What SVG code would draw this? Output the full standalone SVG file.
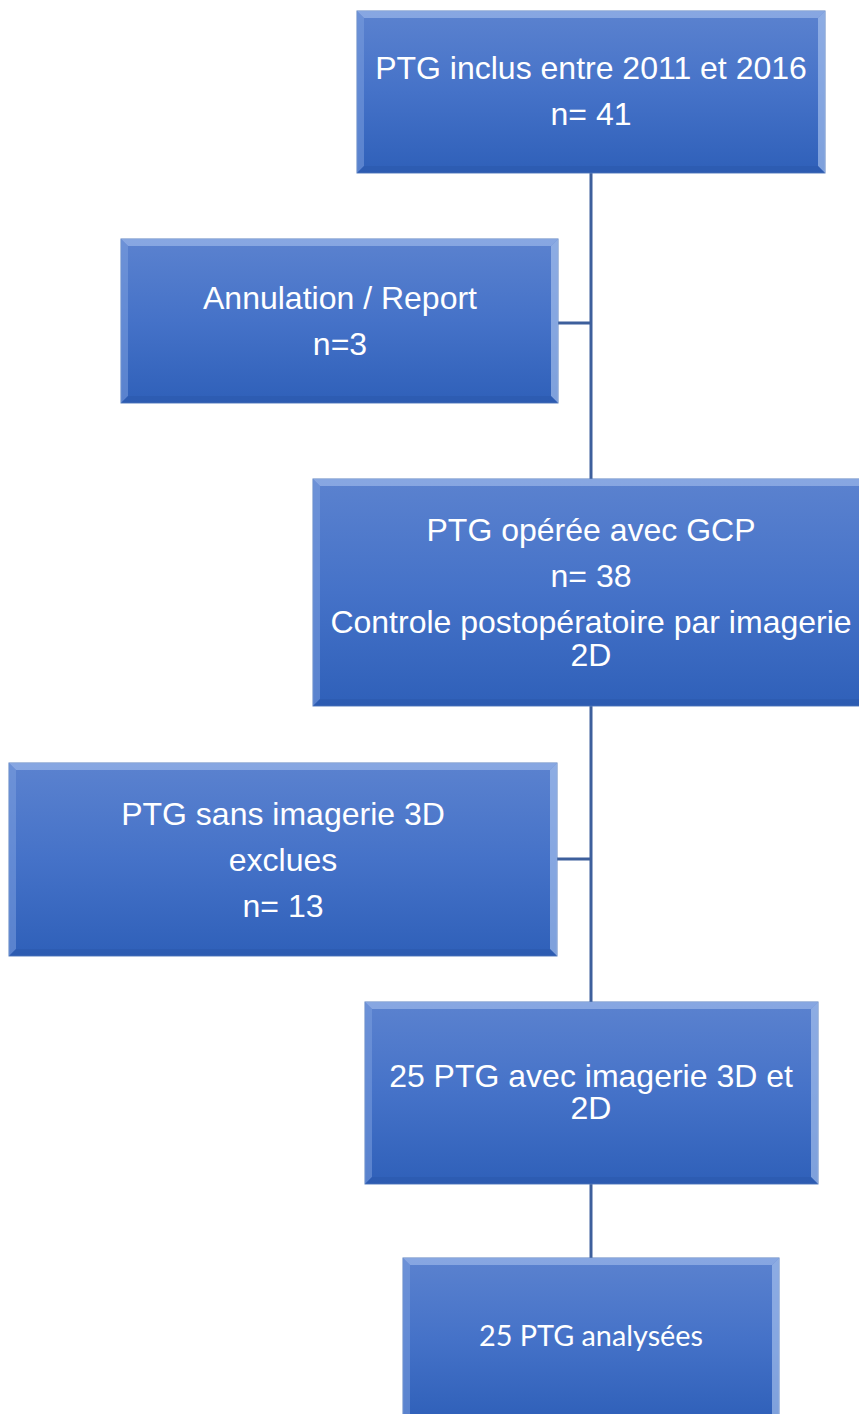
<svg xmlns="http://www.w3.org/2000/svg" width="859" height="1414" viewBox="0 0 859 1414">
<defs>
<linearGradient id="fill" x1="0" y1="0" x2="0" y2="1">
<stop offset="0" stop-color="#5b82cf"/>
<stop offset="0.5" stop-color="#4572c8"/>
<stop offset="1" stop-color="#2f60b9"/>
</linearGradient>
</defs>
<style>
.box{fill:url(#fill);stroke:#5a80c0;stroke-width:1}
.bt{fill:#9ab7ea;opacity:0.7}
.bl{fill:#7b9fdf;opacity:0.55}
.br{fill:#a9c3ee;opacity:0.65}
.bb{fill:#2a56a8;opacity:0.45}
.t{font-family:"Liberation Sans",Arial,sans-serif;font-size:32px;fill:#ffffff;text-anchor:middle}
.t2{font-family:Lato,"Open Sans",sans-serif;font-size:28.8px;fill:#ffffff;text-anchor:middle}
.c{stroke:#3d5f9c;stroke-width:3;fill:none}
</style>
<g id="connectors">
<path class="c" d="M591 173 V479 M558 323 H591"/>
<path class="c" d="M591 706 V1002 M557 859 H591"/>
<path class="c" d="M591 1184 V1258"/>
</g>
<g id="n1">
<rect class="box" x="357" y="11" width="468" height="162"/>
<polygon class="bt" points="357,11 825,11 818,18 364,18"/>
<polygon class="bl" points="357,11 364,18 364,166 357,173"/>
<polygon class="br" points="825,11 825,173 818,166 818,18"/>
<polygon class="bb" points="357,173 825,173 818,166 364,166"/>
<text class="t" x="591" y="79">PTG inclus entre 2011 et 2016</text>
<text class="t" x="591" y="125">n= 41</text>
</g>
<g id="n2">
<rect class="box" x="121" y="239" width="437" height="164"/>
<polygon class="bt" points="121,239 558,239 551,246 128,246"/>
<polygon class="bl" points="121,239 128,246 128,396 121,403"/>
<polygon class="br" points="558,239 558,403 551,396 551,246"/>
<polygon class="bb" points="121,403 558,403 551,396 128,396"/>
<text class="t" x="340" y="309">Annulation / Report</text>
<text class="t" x="340" y="355">n=3</text>
</g>
<g id="n3">
<rect class="box" x="313" y="479" width="556" height="227"/>
<polygon class="bt" points="313,479 869,479 862,486 320,486"/>
<polygon class="bl" points="313,479 320,486 320,699 313,706"/>
<polygon class="bb" points="313,706 869,706 862,699 320,699"/>
<text class="t" x="591" y="541">PTG opérée avec GCP</text>
<text class="t" x="591" y="587">n= 38</text>
<text class="t" x="591" y="633">Controle postopératoire par imagerie</text>
<text class="t" x="591" y="666">2D</text>
</g>
<g id="n4">
<rect class="box" x="9" y="763" width="548" height="193"/>
<polygon class="bt" points="9,763 557,763 550,770 16,770"/>
<polygon class="bl" points="9,763 16,770 16,949 9,956"/>
<polygon class="br" points="557,763 557,956 550,949 550,770"/>
<polygon class="bb" points="9,956 557,956 550,949 16,949"/>
<text class="t" x="283" y="825">PTG sans imagerie 3D</text>
<text class="t" x="283" y="871">exclues</text>
<text class="t" x="283" y="917">n= 13</text>
</g>
<g id="n5">
<rect class="box" x="365" y="1002" width="453" height="182"/>
<polygon class="bt" points="365,1002 818,1002 811,1009 372,1009"/>
<polygon class="bl" points="365,1002 372,1009 372,1177 365,1184"/>
<polygon class="br" points="818,1002 818,1184 811,1177 811,1009"/>
<polygon class="bb" points="365,1184 818,1184 811,1177 372,1177"/>
<text class="t" x="591" y="1087">25 PTG avec imagerie 3D et</text>
<text class="t" x="591" y="1119">2D</text>
</g>
<g id="n6">
<rect class="box" x="403" y="1258" width="376" height="162"/>
<polygon class="bt" points="403,1258 779,1258 772,1265 410,1265"/>
<polygon class="bl" points="403,1258 410,1265 410,1420 403,1420"/>
<polygon class="br" points="779,1258 779,1420 772,1420 772,1265"/>
<text class="t2" x="591" y="1346">25 PTG analysées</text>
</g>
</svg>
